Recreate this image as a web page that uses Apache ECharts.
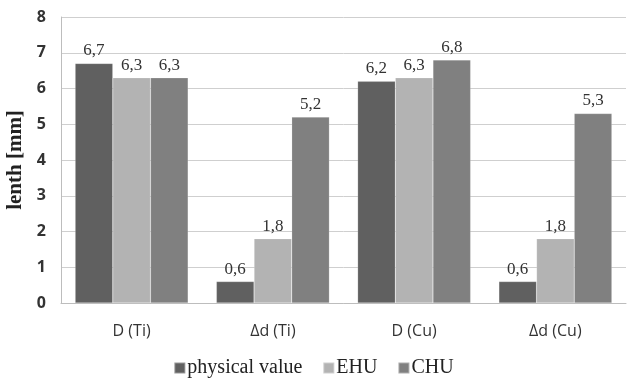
<!DOCTYPE html>
<html><head><meta charset="utf-8">
<script src="https://cdn.jsdelivr.net/npm/echarts@6/dist/echarts.min.js"></script>
<style>html,body{margin:0;padding:0;background:#fff}#c{width:627px;height:378px}</style>
</head><body><div id="c"></div>
<script>
const categories = ['D (Ti)', 'Δd (Ti)', 'D (Cu)', 'Δd (Cu)'];
const physicalValue = [6.7, 0.6, 6.2, 0.6];
const EHU = [6.3, 1.8, 6.3, 1.8];
const CHU = [6.3, 5.2, 6.8, 5.3];
const yTicks = [0, 1, 2, 3, 4, 5, 6, 7, 8];

const chart = echarts.init(document.getElementById('c'));
const lbl = {
  show: true, position: 'top', distance: 4,
  fontFamily: 'Liberation Serif', fontSize: 17, color: '#333',
  formatter: p => String(p.value).replace('.', ',')
};
function mk(name, data, color) {
  return {
    name, type: 'bar', data, barGap: '0%', barCategoryGap: '20%',
    itemStyle: { color, borderColor: 'rgba(255,255,255,0.35)', borderWidth: 0.5 },
    label: lbl
  };
}
chart.setOption({
  animation: false,
  grid: { left: 61, right: 1, top: 17, bottom: 75, containLabel: false, outerBoundsMode: 'none' },
  legend: {
    bottom: -5, left: 'center', itemWidth: 11, itemHeight: 11, itemGap: 20,
    icon: 'rect',
    textStyle: { fontFamily: 'Liberation Serif', fontSize: 20, color: '#222', padding: [0, 0, 0, -3] },
    data: ['physical value', 'EHU', 'CHU']
  },
  xAxis: {
    type: 'category', data: categories,
    axisLine: { lineStyle: { color: '#bdbdbd' } },
    axisTick: { show: false },
    axisLabel: { fontFamily: 'Open Sans', fontSize: 16, color: '#333', margin: 20 }
  },
  yAxis: {
    type: 'value', min: yTicks[0], max: yTicks[yTicks.length - 1], interval: 1,
    name: 'lenth [mm]', nameLocation: 'middle', nameGap: 29,
    nameTextStyle: { fontFamily: 'Liberation Serif', fontWeight: 'bold', fontSize: 21, color: '#222' },
    axisLine: { show: true, lineStyle: { color: '#bdbdbd' } },
    axisTick: { show: false },
    axisLabel: { fontFamily: 'Open Sans', fontWeight: 'bold', fontSize: 16, color: '#333', margin: 15 },
    splitLine: { lineStyle: { color: '#cfcfcf' } }
  },
  series: [
    mk('physical value', physicalValue, '#606060'),
    mk('EHU', EHU, '#b3b3b3'),
    mk('CHU', CHU, '#808080')
  ]
});
</script></body></html>
